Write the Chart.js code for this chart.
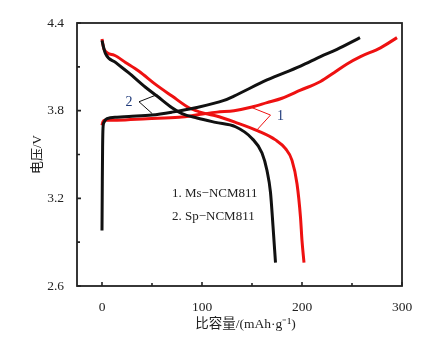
<!DOCTYPE html>
<html lang="zh-CN">
<head>
<meta charset="UTF-8">
<title>比容量-电压曲线</title>
<script src="https://cdn.jsdelivr.net/npm/chart.js"></script>
<style>
  html, body { margin: 0; padding: 0; background: #fff; }
  #chart { display: block; }
</style>
</head>
<body>
<canvas id="chart" width="429" height="339"></canvas>
<script>
// 1. Ms-NCM811 (red)
const msChargeCap = [0, 1, 3, 15, 45, 77, 98.5, 115, 132, 150, 165, 180, 198.5, 218.5, 232, 245, 258.5, 278.5, 295];
const msChargeV   = [3.70, 3.725, 3.735, 3.735, 3.745, 3.755, 3.775, 3.79, 3.80, 3.825, 3.855, 3.885, 3.94, 4.00, 4.06, 4.12, 4.17, 4.23, 4.30];
const msDischargeCap = [0, 2, 12, 23.5, 37, 53.5, 70, 87, 103.5, 113.5, 133.5, 156.5, 173.5, 183.5, 190, 195, 198.5, 200, 202];
const msDischargeV   = [4.29, 4.22, 4.18, 4.13, 4.07, 3.98, 3.90, 3.82, 3.78, 3.765, 3.72, 3.66, 3.60, 3.54, 3.46, 3.30, 3.07, 2.91, 2.76];

// 2. Sp-NCM811 (black)
const spChargeCap = [0, 0.3, 0.6, 1, 2, 5, 15, 27, 50, 70, 93.5, 122, 132, 165, 198.5, 218.5, 235, 258];
const spChargeV   = [2.98, 3.3, 3.55, 3.68, 3.72, 3.745, 3.755, 3.76, 3.77, 3.79, 3.82, 3.87, 3.90, 4.01, 4.105, 4.17, 4.22, 4.30];
const spDischargeCap = [0, 1, 3.5, 13.5, 26.5, 43.5, 55, 70, 80, 95, 113.5, 133.5, 150, 160, 165, 168.5, 171, 173.5];
const spDischargeV   = [4.28, 4.25, 4.19, 4.13, 4.06, 3.96, 3.90, 3.82, 3.78, 3.75, 3.72, 3.69, 3.61, 3.51, 3.39, 3.24, 3.01, 2.76];

const xTicks = [0, 100, 200, 300];
const yTicks = [2.6, 3.2, 3.8, 4.4];
const xMinorTicks = [50, 150, 250];
const yMinorTicks = [2.9, 3.5, 4.1];

const xTitle = '比容量/(mAh\u00b7g\u207b\u00b9)';
const yTitle = '电压/V';
const legendLines = ['1. Ms\u2212NCM811', '2. Sp\u2212NCM811'];
const legendAt = [70, 3.234];

// callouts: label position, vertex, two line ends (data coords)
const callout1 = { text: '1', at: [178.5, 3.76], vertex: [168.5, 3.77], ends: [[150.2, 3.82], [155.2, 3.67]], color: '#ee1111' };
const callout2 = { text: '2', at: [27, 3.86], vertex: [37, 3.861], ends: [[55.2, 3.91], [50.2, 3.78]], color: '#111' };

const RED = '#ee1111';
const BLACK = '#111111';
const SERIF = "'Liberation Serif', 'Noto Sans CJK SC', serif";

function pairs(xs, ys) {
    return xs.map((v, i) => ({ x: v, y: ys[i] }));
}

function curve(xs, ys, color) {
    return {
        data: pairs(xs, ys),
        borderColor: color,
        borderWidth: 3,
        pointRadius: 0,
        cubicInterpolationMode: 'monotone',
        fill: false
    };
}

const decor = {
    id: 'decor',
    afterDraw(chart) {
        const { ctx, chartArea: a, scales: { x, y } } = chart;
        ctx.save();
        ctx.strokeStyle = '#222';
        ctx.lineWidth = 1.8;
        ctx.strokeRect(a.left, a.top, a.right - a.left, a.bottom - a.top);

        // inward ticks
        ctx.lineWidth = 1.6;
        ctx.beginPath();
        xTicks.forEach(v => { const p = x.getPixelForValue(v); ctx.moveTo(p, a.bottom); ctx.lineTo(p, a.bottom - 4); });
        xMinorTicks.forEach(v => { const p = x.getPixelForValue(v); ctx.moveTo(p, a.bottom); ctx.lineTo(p, a.bottom - 3); });
        yTicks.forEach(v => { const p = y.getPixelForValue(v); ctx.moveTo(a.left, p); ctx.lineTo(a.left + 4, p); });
        yMinorTicks.forEach(v => { const p = y.getPixelForValue(v); ctx.moveTo(a.left, p); ctx.lineTo(a.left + 3, p); });
        ctx.stroke();

        // callouts
        [callout1, callout2].forEach(c => {
            const vx = x.getPixelForValue(c.vertex[0]), vy = y.getPixelForValue(c.vertex[1]);
            ctx.strokeStyle = c.color;
            ctx.lineWidth = 1;
            ctx.beginPath();
            c.ends.forEach(e => {
                ctx.moveTo(vx, vy);
                ctx.lineTo(x.getPixelForValue(e[0]), y.getPixelForValue(e[1]));
            });
            ctx.stroke();
            ctx.fillStyle = '#1f3a7a';
            ctx.font = '14px ' + SERIF;
            ctx.textAlign = 'center';
            ctx.textBaseline = 'middle';
            ctx.fillText(c.text, x.getPixelForValue(c.at[0]), y.getPixelForValue(c.at[1]));
        });

        // legend text
        ctx.fillStyle = '#222';
        ctx.font = '13px ' + SERIF;
        ctx.textAlign = 'left';
        ctx.textBaseline = 'middle';
        const lx = x.getPixelForValue(legendAt[0]);
        const ly = y.getPixelForValue(legendAt[1]);
        legendLines.forEach((t, i) => ctx.fillText(t, lx, ly + i * 23.4));

        // x axis title, slightly right of centre as in the original
        ctx.font = '13.5px ' + SERIF;
        ctx.textAlign = 'center';
        ctx.fillText(xTitle, (a.left + a.right) / 2 + 6, a.bottom + 38);
        ctx.restore();
    }
};

new Chart(document.getElementById('chart'), {
    type: 'line',
    data: {
        datasets: [
            curve(spChargeCap, spChargeV, BLACK),
            curve(spDischargeCap, spDischargeV, BLACK),
            curve(msChargeCap, msChargeV, RED),
            curve(msDischargeCap, msDischargeV, RED)
        ]
    },
    options: {
        responsive: false,
        animation: false,
        events: [],
        layout: { padding: { top: 23, right: 27, left: 0, bottom: 0 } },
        plugins: { legend: { display: false }, tooltip: { enabled: false } },
        scales: {
            x: {
                type: 'linear',
                min: -25,
                max: 300,
                afterBuildTicks: s => { s.ticks = xTicks.map(v => ({ value: v })); },
                afterFit: s => { s.height = 53; },
                grid: { display: false },
                border: { display: false },
                ticks: { color: '#222', padding: 5, maxRotation: 0, font: { family: SERIF, size: 13.5 } }
            },
            y: {
                type: 'linear',
                min: 2.6,
                max: 4.4,
                afterBuildTicks: s => { s.ticks = yTicks.map(v => ({ value: v })); },
                afterFit: s => { s.width = 77; },
                grid: { display: false },
                border: { display: false },
                ticks: { color: '#222', padding: 5, font: { family: SERIF, size: 13.5 }, callback: v => v.toFixed(1) },
                title: {
                    display: true,
                    text: yTitle,
                    color: '#222',
                    padding: { top: 30, bottom: 0 },
                    font: { family: SERIF, size: 13 }
                }
            }
        }
    },
    plugins: [decor]
});
</script>
</body>
</html>
